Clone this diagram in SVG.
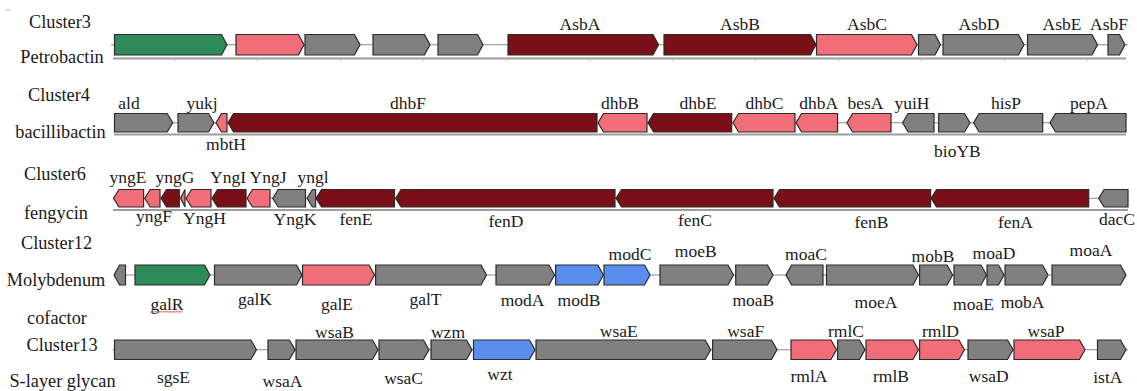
<svg xmlns="http://www.w3.org/2000/svg" width="1137" height="391" viewBox="0 0 1137 391">
<style>
.gene{stroke:#2b2b2b;stroke-width:1.2;stroke-linejoin:miter}
.red{fill:#7b0f17}.pink{fill:#f16d78}.gray{fill:#808080}.green{fill:#2e8a56}.blue{fill:#5b8def}
text{font-family:"Liberation Serif","Times New Roman",serif;fill:#1a1a1a}
.gl{font-size:17.5px;text-anchor:middle}
.rl{font-size:18.3px;text-anchor:middle}
.bb{stroke:#8c8c8c;stroke-width:1.1;fill:none}
.base{stroke:#9d9d9d;stroke-width:2;fill:none}
.tick{stroke:#c4c4c4;stroke-width:1;fill:none}
</style>
<rect width="1137" height="391" fill="#ffffff"/>
<line x1="5" y1="10" x2="11" y2="10" stroke="#c8c8c8" stroke-width="1"/>
<g id="connectors">
<line class="bb" x1="111" y1="44.75" x2="1128" y2="44.75"/>
<line class="bb" x1="114" y1="122.75" x2="1126" y2="122.75"/>
<line class="bb" x1="113" y1="198.25" x2="1128" y2="198.25"/>
<line class="bb" x1="114" y1="275" x2="1126" y2="275"/>
<line class="bb" x1="112.5" y1="349.75" x2="1128" y2="349.75"/>
<line class="base" x1="113" y1="58.5" x2="1126" y2="58.5"/>
<line class="base" x1="114" y1="134.5" x2="1126" y2="134.5"/>
<line class="base" x1="113" y1="210" x2="1128" y2="210"/>
<path class="tick" d="M174.5 59.5v2M257.5 59.5v2M340.5 59.5v2M423.5 59.5v2M506.5 59.5v2M589.5 59.5v2M672.5 59.5v2M755.5 59.5v2M838.5 59.5v2M921.5 59.5v2M1004.5 59.5v2M1087.5 59.5v2"/>
</g>
<g id="row-labels">
<text class="rl" x="60" y="28">Cluster3</text>
<text class="rl" x="62" y="63">Petrobactin</text>
<text class="rl" x="59" y="101">Cluster4</text>
<text class="rl" x="60.5" y="138">bacillibactin</text>
<text class="rl" x="55" y="180">Cluster6</text>
<text class="rl" x="56" y="219">fengycin</text>
<text class="rl" x="56.5" y="249">Cluster12</text>
<text class="rl" x="56" y="286">Molybdenum</text>
<text class="rl" x="57" y="324">cofactor</text>
<text class="rl" x="62" y="351">Cluster13</text>
<text class="rl" x="62.5" y="387">S-layer glycan</text>
</g>
<!-- Row 1 -->
<g id="c3-g1"><path class="gene green" d="M114.5 34.5H221.5L227 44.75L221.5 55H114.5Z"/></g>
<g id="c3-g2"><path class="gene pink" d="M236 34.5H298.5L304 44.75L298.5 55H236Z"/></g>
<g id="c3-g3"><path class="gene gray" d="M305 34.5H354.5L360 44.75L354.5 55H305Z"/></g>
<g id="c3-g4"><path class="gene gray" d="M373 34.5H424.5L430 44.75L424.5 55H373Z"/></g>
<g id="c3-g5"><path class="gene gray" d="M438 34.5H477.5L483 44.75L477.5 55H438Z"/></g>
<g id="AsbA"><path class="gene red" d="M508 34.5H653L658.5 44.75L653 55H508Z"/><text class="gl" x="580" y="29.5">AsbA</text></g>
<g id="AsbB"><path class="gene red" d="M664 34.5H810.5L816 44.75L810.5 55H664Z"/><text class="gl" x="740" y="29.5">AsbB</text></g>
<g id="AsbC"><path class="gene pink" d="M816.5 34.5H911.5L917 44.75L911.5 55H816.5Z"/><text class="gl" x="867" y="29.5">AsbC</text></g>
<g id="c3-g9"><path class="gene gray" d="M918.5 34.5H935L940.5 44.75L935 55H918.5Z"/></g>
<g id="AsbD"><path class="gene gray" d="M943 34.5H1018.5L1024 44.75L1018.5 55H943Z"/><text class="gl" x="979" y="29.5">AsbD</text></g>
<g id="AsbE"><path class="gene gray" d="M1027.5 34.5H1092L1097.5 44.75L1092 55H1027.5Z"/><text class="gl" x="1062" y="29.5">AsbE</text></g>
<g id="AsbF"><path class="gene gray" d="M1108 34.5H1119.5L1125 44.75L1119.5 55H1108Z"/><text class="gl" x="1109" y="29.5">AsbF</text></g>
<!-- Row 2 -->
<g id="ald"><path class="gene gray" d="M114.5 113.5H167.2L172.7 122.75L167.2 132H114.5Z"/><text class="gl" x="129" y="109">ald</text></g>
<g id="yukj"><path class="gene gray" d="M178 113.5H208.5L214 122.75L208.5 132H178Z"/><text class="gl" x="202" y="109">yukj</text></g>
<g id="mbtH"><path class="gene pink" d="M216 122.75L221.5 113.5H227V132H221.5Z"/><text class="gl" x="226" y="150">mbtH</text></g>
<g id="dhbF"><path class="gene red" d="M228 122.75L233.5 113.5H597V132H233.5Z"/><text class="gl" x="408" y="109">dhbF</text></g>
<g id="dhbB"><path class="gene pink" d="M598 122.75L603.5 113.5H647V132H603.5Z"/><text class="gl" x="620" y="109">dhbB</text></g>
<g id="dhbE"><path class="gene red" d="M648 122.75L653.5 113.5H731.7V132H653.5Z"/><text class="gl" x="698" y="109">dhbE</text></g>
<g id="dhbC"><path class="gene pink" d="M733 122.75L738.5 113.5H795V132H738.5Z"/><text class="gl" x="764.4" y="109">dhbC</text></g>
<g id="dhbA"><path class="gene pink" d="M796 122.75L801.5 113.5H837.6V132H801.5Z"/><text class="gl" x="818.8" y="109">dhbA</text></g>
<g id="besA"><path class="gene pink" d="M847 122.75L852.5 113.5H891V132H852.5Z"/><text class="gl" x="865.5" y="109">besA</text></g>
<g id="yuiH"><path class="gene gray" d="M902.6 122.75L908.1 113.5H934V132H908.1Z"/><text class="gl" x="912" y="109">yuiH</text></g>
<g id="bioYB"><path class="gene gray" d="M938.7 113.5H964.5L970 122.75L964.5 132H938.7Z"/><text class="gl" x="957.4" y="157">bioYB</text></g>
<g id="hisP"><path class="gene gray" d="M973.6 122.75L979.1 113.5H1042.7V132H979.1Z"/><text class="gl" x="1006" y="109">hisP</text></g>
<g id="pepA"><path class="gene gray" d="M1050 122.75L1055.5 113.5H1126V132H1055.5Z"/><text class="gl" x="1089" y="109">pepA</text></g>
<!-- Row 3 -->
<g id="yngE"><path class="gene pink" d="M113.5 198.25L119 189.5H143.6V207H119Z"/><text class="gl" x="128" y="183">yngE</text></g>
<g id="yngF"><path class="gene pink" d="M144.7 198.25L150.2 189.5H160V207H150.2Z"/><text class="gl" x="154" y="222">yngF</text></g>
<g id="yngG"><path class="gene red" d="M161 198.25L166.5 189.5H179.3V207H166.5Z"/><text class="gl" x="175" y="183">yngG</text></g>
<g id="c6-tiny"><path class="gene pink" d="M180.5 198.25L185 189.5V207Z"/></g>
<g id="YngH"><path class="gene pink" d="M186 198.25L191.5 189.5H211V207H191.5Z"/><text class="gl" x="204.5" y="224">YngH</text></g>
<g id="YngI"><path class="gene red" d="M212 198.25L217.5 189.5H246V207H217.5Z"/><text class="gl" x="228" y="183">YngI</text></g>
<g id="YngJ"><path class="gene pink" d="M247 198.25L252.5 189.5H270V207H252.5Z"/><text class="gl" x="268" y="183">YngJ</text></g>
<g id="YngK"><path class="gene gray" d="M272.7 198.25L278.2 189.5H305.5V207H278.2Z"/><text class="gl" x="295" y="225">YngK</text></g>
<g id="yngl"><path class="gene gray" d="M307 198.25L312.5 189.5H315.6V207H312.5Z"/><text class="gl" x="313" y="183">yngl</text></g>
<g id="fenE"><path class="gene red" d="M316 198.25L321.5 189.5H394.5V207H321.5Z"/><text class="gl" x="356" y="225">fenE</text></g>
<g id="fenD"><path class="gene red" d="M395.6 198.25L401.1 189.5H615V207H401.1Z"/><text class="gl" x="506" y="227">fenD</text></g>
<g id="fenC"><path class="gene red" d="M616 198.25L621.5 189.5H773V207H621.5Z"/><text class="gl" x="695" y="226">fenC</text></g>
<g id="fenB"><path class="gene red" d="M774 198.25L779.5 189.5H930.6V207H779.5Z"/><text class="gl" x="871.5" y="228">fenB</text></g>
<g id="fenA"><path class="gene red" d="M931 198.25L936.5 189.5H1088.7V207H936.5Z"/><text class="gl" x="1015.5" y="228">fenA</text></g>
<g id="dacC"><path class="gene gray" d="M1098.6 198.25L1104.1 189.5H1128V207H1104.1Z"/><text class="gl" x="1117" y="225">dacC</text></g>
<!-- Row 4 -->
<g id="c12-g1"><path class="gene gray" d="M114 275L119.5 265H125.5V285H119.5Z"/></g>
<g id="galR"><path class="gene green" d="M135 265H204.5L210 275L204.5 285H135Z"/><text class="gl" x="167" y="310">galR</text><path d="M151 312.5l1.5 -1.5l1.5 1.5l1.5 -1.5l1.5 1.5l1.5 -1.5l1.5 1.5l1.5 -1.5l1.5 1.5l1.5 -1.5l1.5 1.5l1.5 -1.5l1.5 1.5l1.5 -1.5l1.5 1.5l1.5 -1.5l1.5 1.5l1.5 -1.5l1.5 1.5l1.5 -1.5l1.5 1.5l1.5 -1.5" fill="none" stroke="#e0393e" stroke-width="0.9"/></g>
<g id="galK"><path class="gene gray" d="M214.5 265H296.5L302 275L296.5 285H214.5Z"/><text class="gl" x="255" y="305">galK</text></g>
<g id="galE"><path class="gene pink" d="M302.5 265H369L374.5 275L369 285H302.5Z"/><text class="gl" x="337" y="310">galE</text></g>
<g id="galT"><path class="gene gray" d="M375.6 265H481L486.5 275L481 285H375.6Z"/><text class="gl" x="425.5" y="305">galT</text></g>
<g id="modA"><path class="gene gray" d="M496 265H549L554.5 275L549 285H496Z"/><text class="gl" x="522.5" y="306">modA</text></g>
<g id="modB"><path class="gene blue" d="M555.6 265H597.9L603.4 275L597.9 285H555.6Z"/><text class="gl" x="579" y="306">modB</text></g>
<g id="modC"><path class="gene blue" d="M604 265H644.5L650 275L644.5 285H604Z"/><text class="gl" x="630" y="260">modC</text></g>
<g id="moeB"><path class="gene gray" d="M660 265H728L733.5 275L728 285H660Z"/><text class="gl" x="695.7" y="256.5">moeB</text></g>
<g id="moaB"><path class="gene gray" d="M735.7 265H767.5L773 275L767.5 285H735.7Z"/><text class="gl" x="753.4" y="306">moaB</text></g>
<g id="moaC"><path class="gene gray" d="M786 275L791.5 265H823V285H791.5Z"/><text class="gl" x="806" y="260">moaC</text></g>
<g id="moeA"><path class="gene gray" d="M826.5 265H913L918.5 275L913 285H826.5Z"/><text class="gl" x="876" y="307.5">moeA</text></g>
<g id="mobB"><path class="gene gray" d="M919.6 265H947.1L952.6 275L947.1 285H919.6Z"/><text class="gl" x="933" y="261.5">mobB</text></g>
<g id="moaE"><path class="gene gray" d="M954 265H981L986.5 275L981 285H954Z"/><text class="gl" x="973.5" y="310">moaE</text></g>
<g id="moaD"><path class="gene gray" d="M987 265H998.5L1004 275L998.5 285H987Z"/><text class="gl" x="994" y="259">moaD</text></g>
<g id="mobA"><path class="gene gray" d="M1005 265H1042.5L1048 275L1042.5 285H1005Z"/><text class="gl" x="1022.5" y="307.5">mobA</text></g>
<g id="moaA"><path class="gene gray" d="M1052 265H1120.5L1126 275L1120.5 285H1052Z"/><text class="gl" x="1091" y="256">moaA</text></g>
<!-- Row 5 -->
<g id="sgsE"><path class="gene gray" d="M114.5 340H250.9L256.4 349.75L250.9 359.5H114.5Z"/><text class="gl" x="173.5" y="383">sgsE</text></g>
<g id="wsaA"><path class="gene gray" d="M268 340H289.5L295 349.75L289.5 359.5H268Z"/><text class="gl" x="282.5" y="387">wsaA</text></g>
<g id="wsaB"><path class="gene gray" d="M296 340H372.5L378 349.75L372.5 359.5H296Z"/><text class="gl" x="334.5" y="337.5">wsaB</text></g>
<g id="wsaC"><path class="gene gray" d="M379 340H423.5L429 349.75L423.5 359.5H379Z"/><text class="gl" x="403.6" y="384">wsaC</text></g>
<g id="wzm"><path class="gene gray" d="M431 340H466.5L472 349.75L466.5 359.5H431Z"/><text class="gl" x="448" y="337.5">wzm</text></g>
<g id="wzt"><path class="gene blue" d="M473.5 340H529.5L535 349.75L529.5 359.5H473.5Z"/><text class="gl" x="500" y="380">wzt</text></g>
<g id="wsaE"><path class="gene gray" d="M536 340H705.2L710.7 349.75L705.2 359.5H536Z"/><text class="gl" x="618.8" y="337">wsaE</text></g>
<g id="wsaF"><path class="gene gray" d="M712.6 340H771.5L777 349.75L771.5 359.5H712.6Z"/><text class="gl" x="745.7" y="337">wsaF</text></g>
<g id="rmlA"><path class="gene pink" d="M791 340H831L836.5 349.75L831 359.5H791Z"/><text class="gl" x="809" y="382">rmlA</text></g>
<g id="rmlC"><path class="gene gray" d="M837.6 340H859.5L865 349.75L859.5 359.5H837.6Z"/><text class="gl" x="846" y="337">rmlC</text></g>
<g id="rmlB"><path class="gene pink" d="M866 340H913L918.5 349.75L913 359.5H866Z"/><text class="gl" x="891" y="382">rmlB</text></g>
<g id="rmlD"><path class="gene pink" d="M919.6 340H958.9L964.4 349.75L958.9 359.5H919.6Z"/><text class="gl" x="940.5" y="337">rmlD</text></g>
<g id="wsaD"><path class="gene gray" d="M968 340H1007.5L1013 349.75L1007.5 359.5H968Z"/><text class="gl" x="988.7" y="382">wsaD</text></g>
<g id="wsaP"><path class="gene pink" d="M1014 340H1079.5L1085 349.75L1079.5 359.5H1014Z"/><text class="gl" x="1046" y="337">wsaP</text></g>
<g id="istA"><path class="gene gray" d="M1097.5 340H1120.5L1126 349.75L1120.5 359.5H1097.5Z"/><text class="gl" x="1107.8" y="383">istA</text></g>
</svg>
